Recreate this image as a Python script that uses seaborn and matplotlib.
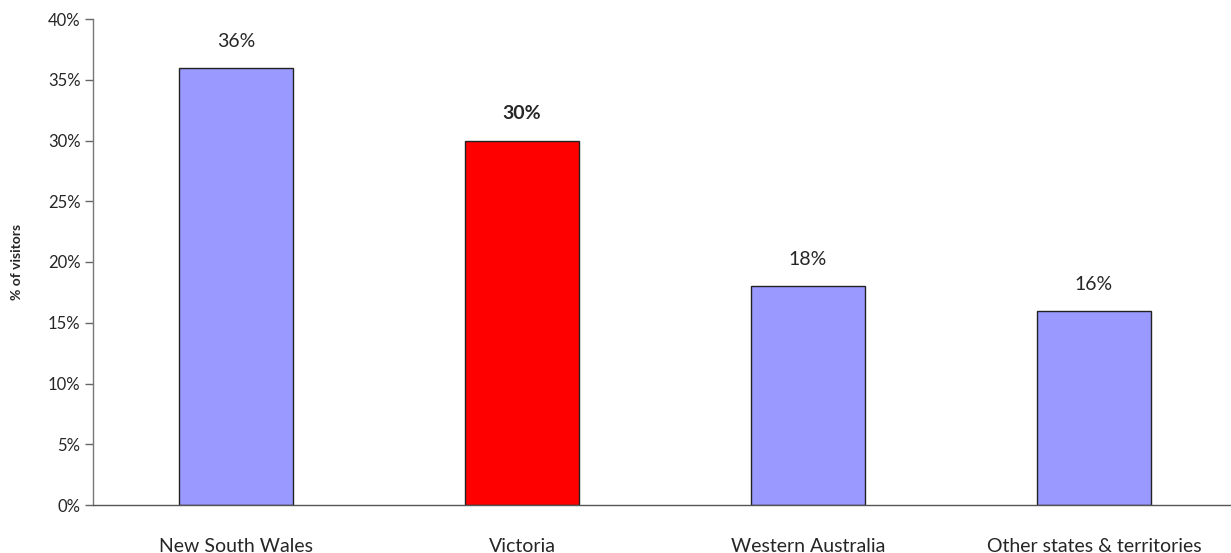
import numpy as np
import pandas as pd
import matplotlib
matplotlib.use("Agg")
import matplotlib.pyplot as plt
import seaborn as sns
from matplotlib.ticker import FixedLocator, PercentFormatter

# data
states = ["New South Wales", "Victoria", "Western Australia", "Other states & territories"]
share = [36, 30, 18, 16]
bar_colors = ["#9999FF", "#FF0000", "#9999FF", "#9999FF"]

df = pd.DataFrame({"state": states, "share": share})

sns.set_style("white")
plt.rcParams["font.family"] = ["Lato", "DejaVu Sans"]

fig = plt.figure(figsize=(12.31, 5.53), dpi=100)
ax = fig.add_axes([93 / 1231, 48 / 553, (1237 - 93) / 1231, (505 - 19) / 553])

sns.barplot(
    data=df, x="state", y="share", hue="state",
    palette=dict(zip(states, bar_colors)), legend=False,
    width=0.4, edgecolor="#222222", linewidth=1.0, saturation=1, ax=ax,
)

ax.set_xlim(-0.5, 3.5)
ax.set_ylim(0, 40)
ax.yaxis.set_major_locator(FixedLocator(np.arange(0, 41, 5)))
ax.yaxis.set_major_formatter(PercentFormatter(decimals=0))

# category labels without ticks, separator ticks between categories
ax.set_xticks(range(len(states)))
ax.set_xticklabels(states, fontsize=14)
ax.tick_params(axis="x", which="major", length=0, pad=24)
ax.set_xticks(np.arange(-0.5, 3.5, 1.0), minor=True)
ax.tick_params(axis="x", which="minor", length=6, width=1, color="#333333", direction="out")
ax.tick_params(axis="y", length=6, width=1, color="#666666", labelsize=12, pad=3, direction="out", left=True)

for sp in ["top", "right"]:
    ax.spines[sp].set_visible(False)
ax.spines["left"].set_color("#777777")
ax.spines["bottom"].set_color("#555555")
ax.spines["left"].set_linewidth(1.0)
ax.spines["bottom"].set_linewidth(1.0)

ax.set_xlabel("")
ax.set_ylabel("% of visitors", fontsize=10, fontweight="bold", labelpad=18)

for i, v in enumerate(share):
    ax.annotate(f"{v}%", (i, v), xytext=(0, 13), textcoords="offset points",
                ha="center", va="bottom", fontsize=14,
                fontweight="bold" if states[i] == "Victoria" else "normal")

fig.savefig("out.png", dpi=100)
